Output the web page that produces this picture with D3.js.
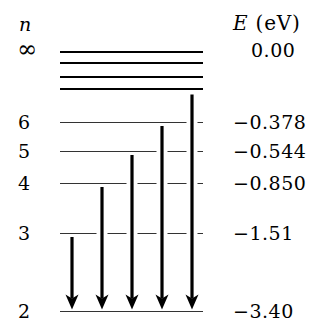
<!DOCTYPE html>
<html>
<head>
<meta charset="utf-8">
<script src="https://cdn.jsdelivr.net/npm/d3@7"></script>
<style>
  html, body { margin: 0; padding: 0; background: #fff; }
  svg { display: block; }
  text { font-family: "DejaVu Serif", "Liberation Serif", serif; fill: #000; }
</style>
</head>
<body>
<svg id="chart"></svg>
<script>
// bound levels of the Balmer series diagram
const levelNames = ['2', '3', '4', '5', '6'];
const levelEnergies = [-3.40, -1.51, -0.850, -0.544, -0.378];
const energyLabels = ['\u22123.40', '\u22121.51', '\u22120.850', '\u22120.544', '\u22120.378'];

// levels crowding toward the ionization limit (n = 7, 8, 9, infinity)
const limitEnergies = [-0.278, -0.213, -0.168, 0];
const limitName = '\u221e';
const limitLabel = '0.00';

// transitions ending on n = 2
const transitionFrom = ['3', '4', '5', '6', '\u221e'];
const transitionFromEnergy = [-1.51, -0.850, -0.544, -0.378, -0.278];
const transitionTo = -3.40;

const size = { width: 320, height: 324 };
const fontSize = 19;
const svg = d3.select('#chart')
  .attr('width', size.width)
  .attr('height', size.height);

// schematic (not to scale) energy axis
const yScale = d3.scaleLinear()
  .domain([-3.40, -1.51, -0.850, -0.544, -0.378, -0.278, -0.213, -0.168, 0])
  .range([311.5, 233.5, 183.5, 151.5, 122.5, 89, 77, 63, 52]);

const xScale = d3.scalePoint()
  .domain(transitionFrom)
  .range([72, 192]);

const lineX = [60, 203];

// level lines
svg.selectAll('.level')
  .data(levelEnergies)
  .enter()
  .append('line')
  .attr('class', 'level')
  .attr('x1', lineX[0])
  .attr('x2', lineX[1])
  .attr('y1', d => yScale(d))
  .attr('y2', d => yScale(d))
  .attr('stroke', '#333')
  .attr('stroke-width', 1.1);

svg.selectAll('.limit')
  .data(limitEnergies)
  .enter()
  .append('line')
  .attr('class', 'limit')
  .attr('x1', lineX[0])
  .attr('x2', lineX[1])
  .attr('y1', d => yScale(d))
  .attr('y2', d => yScale(d))
  .attr('stroke', '#000')
  .attr('stroke-width', 2.2);

// arrows
const transitions = transitionFrom.map((name, i) => ({ name, from: transitionFromEnergy[i] }));
const headLen = 15, headHalf = 6.5, notch = 4;

const arrows = svg.selectAll('.arrow')
  .data(transitions)
  .enter()
  .append('g')
  .attr('class', 'arrow');

const arrowStart = d => yScale(d.from) + (d.name === limitName ? 5.5 : 3.5);
const arrowTip = yScale(transitionTo) - 2;

// white halo breaks the level lines the arrow crosses
arrows.append('line')
  .attr('x1', d => xScale(d.name))
  .attr('x2', d => xScale(d.name))
  .attr('y1', arrowStart)
  .attr('y2', arrowTip - headLen)
  .attr('stroke', '#fff')
  .attr('stroke-width', 11);

arrows.append('line')
  .attr('x1', d => xScale(d.name))
  .attr('x2', d => xScale(d.name))
  .attr('y1', arrowStart)
  .attr('y2', arrowTip - headLen + 4)
  .attr('stroke', '#000')
  .attr('stroke-width', 3.2);

arrows.append('path')
  .attr('d', d => {
    const x = xScale(d.name), y = arrowTip;
    const p = d3.path();
    p.moveTo(x, y);
    p.lineTo(x - headHalf, y - headLen);
    p.lineTo(x, y - headLen + notch);
    p.lineTo(x + headHalf, y - headLen);
    p.closePath();
    return p.toString();
  })
  .attr('fill', '#000');

// left labels (quantum number)
svg.selectAll('.nlabel')
  .data(levelNames)
  .enter()
  .append('text')
  .attr('class', 'nlabel')
  .attr('x', 24)
  .attr('y', (d, i) => yScale(levelEnergies[i]) + 6.5)
  .attr('text-anchor', 'middle')
  .attr('font-size', fontSize)
  .text(d => d);

svg.append('text')
  .attr('x', 27)
  .attr('y', yScale(0) + 4.5)
  .attr('text-anchor', 'middle')
  .attr('font-size', 24)
  .text(limitName);

svg.append('text')
  .attr('x', 25)
  .attr('y', 31)
  .attr('text-anchor', 'middle')
  .attr('font-size', fontSize)
  .attr('font-style', 'italic')
  .text('n');

// right labels (energy)
svg.selectAll('.elabel')
  .data(energyLabels)
  .enter()
  .append('text')
  .attr('class', 'elabel')
  .attr('x', 233)
  .attr('y', (d, i) => yScale(levelEnergies[i]) + 6.5)
  .attr('font-size', fontSize)
  .attr('letter-spacing', 0.5)
  .text(d => d);

svg.append('text')
  .attr('x', 251)
  .attr('y', yScale(0) + 5)
  .attr('font-size', fontSize)
  .attr('letter-spacing', 0.5)
  .text(limitLabel);

const head = svg.append('text')
  .attr('x', 233)
  .attr('y', 30)
  .attr('font-size', 20)
  .attr('letter-spacing', 0.8);
head.append('tspan').attr('font-style', 'italic').text('E');
head.append('tspan').text(' (eV)');
</script>
</body>
</html>
